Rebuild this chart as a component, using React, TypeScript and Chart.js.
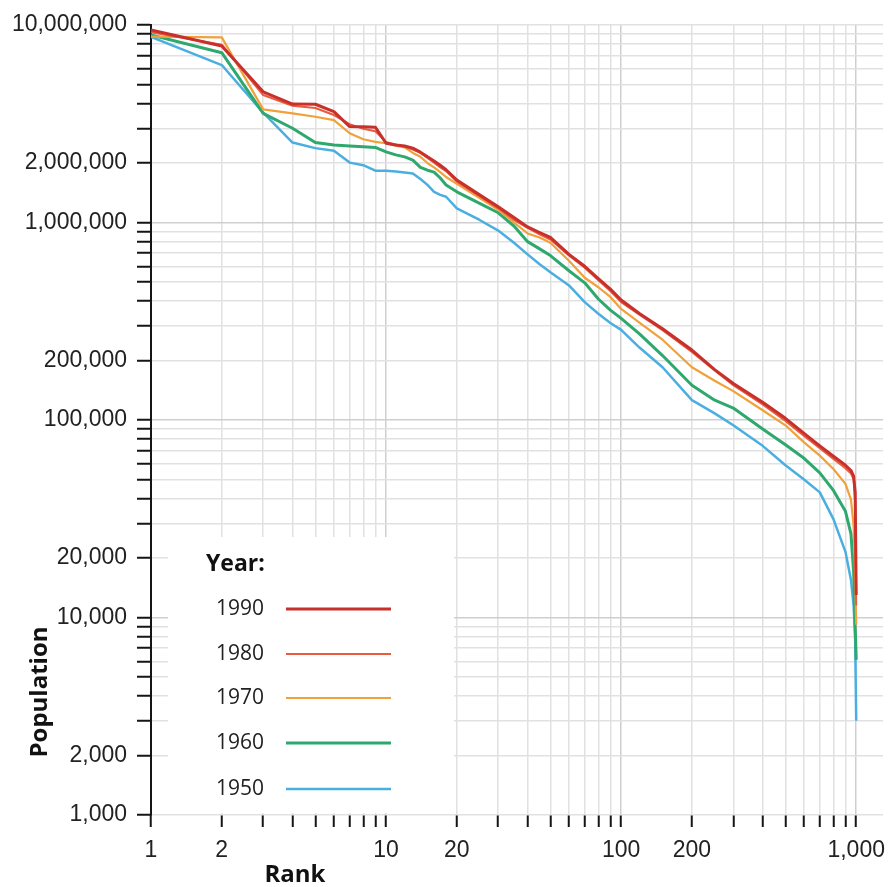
import React, { useEffect, useRef } from 'react';
import { Chart, registerables } from 'chart.js';

Chart.register(...registerables);

// ---- data ----
const ranks = [1, 2, 3, 4, 5, 6, 7, 8, 9, 10, 11, 12, 13, 14, 15, 16, 17, 18, 20, 25, 30, 35, 40, 45, 50, 60, 70, 80, 90, 100, 120, 150, 200, 250, 300, 400, 500, 600, 700, 800, 900, 950, 975, 990, 1000];

const pop1990 = [9440000, 7830000, 4590000, 3980000, 3970000, 3640000, 3060000, 3050000, 3040000, 2520000, 2470000, 2440000, 2380000, 2270000, 2150000, 2050000, 1950000, 1850000, 1640000, 1380000, 1200000, 1060000, 950000, 890000, 840000, 690000, 600000, 520000, 460000, 405000, 345000, 290000, 226000, 180000, 153000, 123000, 102000, 85500, 74000, 65500, 59000, 55500, 52000, 43000, 13000];

const pop1980 = [9200000, 7950000, 4420000, 3900000, 3800000, 3500000, 3150000, 2980000, 2900000, 2560000, 2480000, 2420000, 2340000, 2250000, 2120000, 2010000, 1900000, 1820000, 1610000, 1360000, 1180000, 1030000, 940000, 870000, 820000, 680000, 590000, 510000, 450000, 395000, 340000, 285000, 221000, 178000, 150000, 120000, 99000, 83000, 72000, 63500, 57000, 53500, 50000, 38000, 11500];

const pop1970 = [8730000, 8660000, 3740000, 3570000, 3430000, 3300000, 2830000, 2640000, 2560000, 2520000, 2450000, 2400000, 2250000, 2150000, 2000000, 1900000, 1800000, 1700000, 1570000, 1330000, 1160000, 1000000, 880000, 840000, 790000, 640000, 525000, 470000, 420000, 365000, 310000, 255000, 185000, 158000, 140000, 112000, 94000, 77000, 66000, 56500, 47500, 39500, 29000, 16500, 9200];

const pop1960 = [8900000, 7240000, 3570000, 3000000, 2540000, 2470000, 2440000, 2420000, 2400000, 2280000, 2200000, 2150000, 2070000, 1900000, 1840000, 1800000, 1680000, 1550000, 1430000, 1250000, 1120000, 960000, 800000, 735000, 680000, 570000, 495000, 410000, 360000, 327000, 272000, 212000, 150000, 126000, 115000, 90000, 75000, 64000, 54000, 44000, 34500, 26500, 17000, 9000, 6100];

const pop1950 = [8700000, 6270000, 3600000, 2540000, 2380000, 2310000, 2010000, 1950000, 1830000, 1830000, 1810000, 1790000, 1770000, 1660000, 1550000, 1430000, 1380000, 1350000, 1180000, 1030000, 910000, 790000, 690000, 615000, 560000, 480000, 395000, 345000, 310000, 286000, 232000, 185000, 126000, 108000, 94000, 74000, 59000, 50000, 43000, 31500, 21500, 15500, 11500, 7700, 3000];

const years = ['1990', '1980', '1970', '1960', '1950'];
const seriesValues = [pop1990, pop1980, pop1970, pop1960, pop1950];

const xTickValues = [1, 2, 3, 4, 5, 6, 7, 8, 9, 10, 20, 30, 40, 50, 60, 70, 80, 90, 100, 200, 300, 400, 500, 600, 700, 800, 900, 1000];
const xLabeled = [1, 2, 10, 20, 100, 200, 1000];
const xMajor = [10, 100, 1000];

const yTickValues = [1000, 2000, 3000, 4000, 5000, 6000, 7000, 8000, 9000, 10000, 20000, 30000, 40000, 50000, 60000, 70000, 80000, 90000, 100000, 200000, 300000, 400000, 500000, 600000, 700000, 800000, 900000, 1000000, 2000000, 3000000, 4000000, 5000000, 6000000, 7000000, 8000000, 9000000, 10000000];
const yLabeled = [1000, 2000, 10000, 20000, 100000, 200000, 1000000, 2000000, 10000000];
const yMajor = [10000, 100000, 1000000];

// ---- styles ----
const colors = ['#c8302b', '#e85b3d', '#f0a13a', '#2ea86d', '#4aafe0'];
const lineWidths = [3, 2, 2.2, 3, 2.5];
const numFont = "'Liberation Sans', Arial, Helvetica, sans-serif";
const titleFont = "'Open Sans', 'Noto Sans', sans-serif";

const overlayPlugin = {
  id: 'overlay',
  beforeDatasetsDraw(chart: any) {
    const ctx = chart.ctx;
    ctx.save();
    // legend box
    ctx.fillStyle = '#ffffff';
    ctx.fillRect(168, 537, 286, 276);
    ctx.fillStyle = '#111';
    ctx.font = `bold 23px ${titleFont}`;
    ctx.textAlign = 'left';
    ctx.textBaseline = 'middle';
    ctx.fillText('Year:', 206, 564);
    const rowY = [609, 654, 698, 743, 789];
    years.forEach((yr, i) => {
      ctx.fillStyle = '#222';
      ctx.font = `21px ${titleFont}`;
      ctx.textAlign = 'right';
      ctx.textBaseline = 'middle';
      ctx.fillText(yr, 264, rowY[i]);
      ctx.strokeStyle = colors[i];
      ctx.lineWidth = lineWidths[i];
      ctx.beginPath();
      ctx.moveTo(286, rowY[i]);
      ctx.lineTo(391, rowY[i]);
      ctx.stroke();
    });
    ctx.restore();
  },
  afterDraw(chart: any) {
    const ctx = chart.ctx;
    ctx.save();
    ctx.fillStyle = '#111';
    ctx.font = `bold 24px ${titleFont}`;
    ctx.textAlign = 'center';
    ctx.textBaseline = 'middle';
    ctx.fillText('Rank', 295, 875);
    ctx.translate(40, 692);
    ctx.rotate(-Math.PI / 2);
    ctx.fillText('Population', 0, 0);
    ctx.restore();
  },
};

export default function App() {
  const canvasRef = useRef<HTMLCanvasElement | null>(null);

  useEffect(() => {
    const canvas = canvasRef.current;
    if (!canvas) return;
    const datasets = years.map((yr, i) => ({
      label: yr,
      data: ranks.map((r, j) => ({ x: r, y: seriesValues[i][j] })),
      borderColor: colors[i],
      backgroundColor: colors[i],
      borderWidth: lineWidths[i],
      pointRadius: 0,
      tension: 0,
      borderJoinStyle: 'round' as const,
      fill: false,
    }));

    const chart = new Chart(canvas, {
      type: 'line',
      data: { datasets },
      options: {
        animation: false,
        responsive: false,
        devicePixelRatio: 1,
        layout: { padding: { left: 0, top: 25, right: 5, bottom: 0 } },
        plugins: { legend: { display: false }, tooltip: { enabled: false } },
        scales: {
          x: {
            type: 'logarithmic',
            min: 1,
            max: 1300,
            afterBuildTicks: (s: any) => {
              s.ticks = xTickValues.map((v) => ({ value: v }));
            },
            afterFit: (s: any) => {
              s.height = 72;
              s.paddingLeft = 0;
              s.paddingRight = 0;
            },
            border: { display: false },
            grid: {
              color: (c: any) => (xMajor.includes(c.tick?.value) ? '#cfcfcf' : '#e1e1e1'),
              lineWidth: 1.5,
              tickColor: '#151515',
              tickWidth: 2,
              tickLength: 12,
              drawTicks: true,
            },
            ticks: {
              autoSkip: false,
              maxRotation: 0,
              minRotation: 0,
              padding: 10,
              color: '#222',
              font: { family: numFont, size: 23 },
              callback: (v: any) => (xLabeled.includes(Number(v)) ? Number(v).toLocaleString('en-US') : ''),
            },
          },
          y: {
            type: 'logarithmic',
            min: 1000,
            max: 10000000,
            afterBuildTicks: (s: any) => {
              s.ticks = yTickValues.map((v) => ({ value: v }));
            },
            afterFit: (s: any) => {
              s.width = 151;
              s.paddingTop = 0;
              s.paddingBottom = 0;
            },
            border: { display: true, color: '#151515', width: 2 },
            grid: {
              color: (c: any) => (yMajor.includes(c.tick?.value) ? '#cfcfcf' : '#e1e1e1'),
              lineWidth: 1.5,
              tickColor: '#151515',
              tickWidth: 2,
              tickLength: 14,
              drawTicks: true,
            },
            ticks: {
              autoSkip: false,
              padding: 10,
              color: '#222',
              font: { family: numFont, size: 23 },
              callback: (v: any) => (yLabeled.includes(Number(v)) ? Number(v).toLocaleString('en-US') : ''),
            },
          },
        },
      },
      plugins: [overlayPlugin],
    });

    return () => chart.destroy();
  }, []);

  return (
    <div style={{ position: 'fixed', left: 0, top: 0, width: 888, height: 887, background: '#fff' }}>
      <canvas ref={canvasRef} width={888} height={887} style={{ display: 'block' }} />
    </div>
  );
}
